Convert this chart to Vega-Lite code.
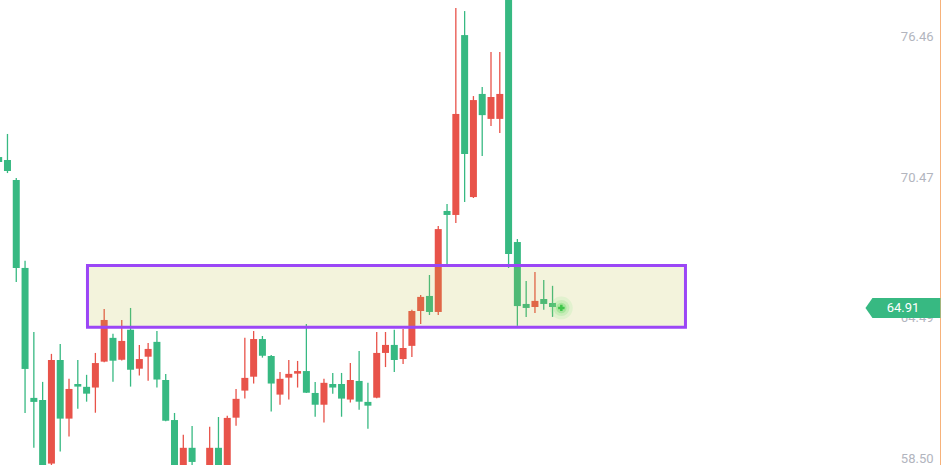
{
  "$schema": "https://vega.github.io/schema/vega-lite/v6.json",
  "width": 942,
  "height": 465,
  "padding": 0,
  "autosize": {"type": "none"},
  "background": "white",
  "config": {
    "view": {"stroke": null},
    "axisY": {"labelAlign": "right", "labelBaseline": "middle", "offset": -9, "labelPadding": 0, "ticks": false, "domain": false, "grid": false, "labelColor": "#b2b5be", "labelFontSize": 13, "labelFont": "Roboto"}
  },
  "datasets": {
    "candles": [
      {"i": 0, "o": 71.32, "h": 71.45, "l": 71.0, "c": 71.11},
      {"i": 1, "o": 71.19, "h": 72.30, "l": 70.64, "c": 70.73},
      {"i": 2, "o": 70.35, "h": 70.43, "l": 66.01, "c": 66.61},
      {"i": 3, "o": 66.61, "h": 66.91, "l": 60.45, "c": 62.32},
      {"i": 4, "o": 61.09, "h": 63.89, "l": 58.97, "c": 60.92},
      {"i": 5, "o": 61.00, "h": 61.77, "l": 57.8, "c": 58.0},
      {"i": 6, "o": 58.30, "h": 62.96, "l": 58.1, "c": 62.70},
      {"i": 7, "o": 62.70, "h": 63.38, "l": 58.81, "c": 60.21},
      {"i": 8, "o": 60.21, "h": 61.90, "l": 59.45, "c": 61.47},
      {"i": 9, "o": 61.68, "h": 62.70, "l": 60.63, "c": 61.57},
      {"i": 10, "o": 61.56, "h": 62.07, "l": 60.93, "c": 61.27},
      {"i": 11, "o": 61.53, "h": 63.00, "l": 60.46, "c": 62.57},
      {"i": 12, "o": 62.63, "h": 64.87, "l": 62.60, "c": 64.40},
      {"i": 13, "o": 63.64, "h": 63.81, "l": 61.78, "c": 62.67},
      {"i": 14, "o": 62.71, "h": 64.40, "l": 62.68, "c": 63.51},
      {"i": 15, "o": 63.98, "h": 64.91, "l": 61.57, "c": 62.29},
      {"i": 16, "o": 62.33, "h": 63.34, "l": 62.04, "c": 62.74},
      {"i": 17, "o": 62.84, "h": 63.42, "l": 61.82, "c": 63.17},
      {"i": 18, "o": 63.47, "h": 63.93, "l": 61.53, "c": 61.87},
      {"i": 19, "o": 61.85, "h": 62.11, "l": 60.10, "c": 60.12},
      {"i": 20, "o": 60.15, "h": 60.45, "l": 57.9, "c": 58.0},
      {"i": 21, "o": 58.0, "h": 59.52, "l": 57.8, "c": 58.97},
      {"i": 22, "o": 58.97, "h": 59.90, "l": 58.1, "c": 58.37},
      {"i": 23, "o": 58.0, "h": 58.15, "l": 57.3, "c": 57.6},
      {"i": 24, "o": 57.9, "h": 59.86, "l": 57.6, "c": 58.97},
      {"i": 25, "o": 58.97, "h": 60.28, "l": 57.9, "c": 58.0},
      {"i": 26, "o": 57.9, "h": 60.33, "l": 57.7, "c": 60.24},
      {"i": 27, "o": 60.25, "h": 61.47, "l": 59.91, "c": 61.05},
      {"i": 28, "o": 61.40, "h": 63.64, "l": 61.06, "c": 61.94},
      {"i": 29, "o": 61.99, "h": 63.93, "l": 61.70, "c": 63.59},
      {"i": 30, "o": 63.59, "h": 63.72, "l": 62.80, "c": 62.88},
      {"i": 31, "o": 62.87, "h": 62.91, "l": 60.51, "c": 61.70},
      {"i": 32, "o": 61.23, "h": 62.19, "l": 60.80, "c": 61.90},
      {"i": 33, "o": 61.95, "h": 62.70, "l": 61.02, "c": 62.11},
      {"i": 34, "o": 62.12, "h": 62.66, "l": 61.53, "c": 62.23},
      {"i": 35, "o": 62.23, "h": 64.23, "l": 61.30, "c": 61.31},
      {"i": 36, "o": 61.30, "h": 61.77, "l": 60.29, "c": 60.80},
      {"i": 37, "o": 60.80, "h": 61.90, "l": 60.04, "c": 61.73},
      {"i": 38, "o": 61.68, "h": 62.15, "l": 61.27, "c": 61.53},
      {"i": 39, "o": 61.68, "h": 62.15, "l": 60.29, "c": 61.06},
      {"i": 40, "o": 61.02, "h": 62.57, "l": 60.89, "c": 61.85},
      {"i": 41, "o": 61.81, "h": 63.08, "l": 60.59, "c": 60.93},
      {"i": 42, "o": 60.92, "h": 61.73, "l": 59.78, "c": 60.76},
      {"i": 43, "o": 61.10, "h": 63.89, "l": 61.08, "c": 63.00},
      {"i": 44, "o": 63.00, "h": 63.89, "l": 62.40, "c": 63.34},
      {"i": 45, "o": 63.34, "h": 63.98, "l": 62.19, "c": 62.70},
      {"i": 46, "o": 62.74, "h": 64.02, "l": 62.53, "c": 63.21},
      {"i": 47, "o": 63.30, "h": 64.83, "l": 62.83, "c": 64.78},
      {"i": 48, "o": 64.78, "h": 65.46, "l": 64.23, "c": 65.38},
      {"i": 49, "o": 65.42, "h": 66.31, "l": 64.61, "c": 64.74},
      {"i": 50, "o": 64.74, "h": 68.39, "l": 64.61, "c": 68.26},
      {"i": 51, "o": 69.03, "h": 69.33, "l": 66.78, "c": 68.86},
      {"i": 52, "o": 68.86, "h": 77.65, "l": 68.52, "c": 73.15},
      {"i": 53, "o": 76.50, "h": 77.52, "l": 69.41, "c": 71.45},
      {"i": 54, "o": 69.62, "h": 73.91, "l": 69.58, "c": 73.74},
      {"i": 55, "o": 74.00, "h": 74.29, "l": 71.36, "c": 73.10},
      {"i": 56, "o": 72.94, "h": 75.78, "l": 72.64, "c": 73.87},
      {"i": 57, "o": 72.94, "h": 75.78, "l": 72.34, "c": 74.00},
      {"i": 58, "o": 78.6, "h": 78.9, "l": 66.61, "c": 67.20},
      {"i": 59, "o": 67.71, "h": 67.84, "l": 64.15, "c": 64.99},
      {"i": 60, "o": 65.08, "h": 66.06, "l": 64.53, "c": 64.91},
      {"i": 61, "o": 64.95, "h": 66.44, "l": 64.70, "c": 65.21},
      {"i": 62, "o": 65.29, "h": 66.10, "l": 64.83, "c": 65.08},
      {"i": 63, "o": 65.12, "h": 65.85, "l": 64.53, "c": 64.95},
      {"i": 64, "o": 64.93, "h": 65.0, "l": 64.84, "c": 64.90}
    ],
    "zone": [{"x1": 10.10, "x2": 78.12, "top": 66.715, "bottom": 64.095}],
    "last": [{"i": 64, "p": 64.91}],
    "frame": [{"edge": 107.13}]
  },
  "layer": [
    {
      "data": {"name": "candles"},
      "mark": {"type": "rule", "strokeWidth": 1.3, "clip": true},
      "encoding": {
        "x": {"field": "i", "type": "quantitative", "scale": {"domain": [0.15, 107.3], "nice": false, "zero": false, "padding": 0}, "axis": null},
        "y": {"field": "l", "type": "quantitative", "title": null, "scale": {"domain": [58.24, 77.99], "nice": false, "zero": false, "padding": 0}, "axis": {"orient": "right", "values": [58.5, 64.49, 70.47, 76.46], "format": ".2f"}},
        "y2": {"field": "h"},
        "color": {"condition": {"test": "datum.c < datum.o", "value": "#37b982"}, "value": "#e8534a"}
      }
    },
    {
      "data": {"name": "candles"},
      "mark": {"type": "bar", "width": 7, "clip": true},
      "encoding": {
        "x": {"field": "i", "type": "quantitative", "scale": {"domain": [0.15, 107.3], "nice": false, "zero": false, "padding": 0}, "axis": null},
        "y": {"field": "o", "type": "quantitative", "title": null, "scale": {"domain": [58.24, 77.99], "nice": false, "zero": false, "padding": 0}, "axis": {"orient": "right", "values": [58.5, 64.49, 70.47, 76.46], "format": ".2f"}},
        "y2": {"field": "c"},
        "color": {"condition": {"test": "datum.c < datum.o", "value": "#37b982"}, "value": "#e8534a"}
      }
    },
    {
      "data": {"name": "zone"},
      "mark": {"type": "rect", "fill": "#bcbc3c", "fillOpacity": 0.18, "stroke": "#9b46f6", "strokeWidth": 3, "strokeOpacity": 1},
      "encoding": {
        "x": {"field": "x1", "type": "quantitative", "scale": {"domain": [0.15, 107.3], "nice": false, "zero": false, "padding": 0}, "axis": null},
        "x2": {"field": "x2"},
        "y": {"field": "top", "type": "quantitative", "title": null, "scale": {"domain": [58.24, 77.99], "nice": false, "zero": false, "padding": 0}, "axis": {"orient": "right", "values": [58.5, 64.49, 70.47, 76.46], "format": ".2f"}},
        "y2": {"field": "bottom"}
      }
    },
    {
      "data": {"name": "last"},
      "mark": {"type": "circle", "size": 520, "color": "#7ee87e", "opacity": 0.15},
      "encoding": {
        "x": {"field": "i", "type": "quantitative", "scale": {"domain": [0.15, 107.3], "nice": false, "zero": false, "padding": 0}, "axis": null},
        "y": {"field": "p", "type": "quantitative", "title": null, "scale": {"domain": [58.24, 77.99], "nice": false, "zero": false, "padding": 0}, "axis": {"orient": "right", "values": [58.5, 64.49, 70.47, 76.46], "format": ".2f"}}
      }
    },
    {
      "data": {"name": "last"},
      "mark": {"type": "circle", "size": 260, "color": "#6ee06e", "opacity": 0.2},
      "encoding": {
        "x": {"field": "i", "type": "quantitative", "scale": {"domain": [0.15, 107.3], "nice": false, "zero": false, "padding": 0}, "axis": null},
        "y": {"field": "p", "type": "quantitative", "title": null, "scale": {"domain": [58.24, 77.99], "nice": false, "zero": false, "padding": 0}, "axis": {"orient": "right", "values": [58.5, 64.49, 70.47, 76.46], "format": ".2f"}}
      }
    },
    {
      "data": {"name": "last"},
      "mark": {"type": "circle", "size": 110, "color": "#5ed85e", "opacity": 0.3},
      "encoding": {
        "x": {"field": "i", "type": "quantitative", "scale": {"domain": [0.15, 107.3], "nice": false, "zero": false, "padding": 0}, "axis": null},
        "y": {"field": "p", "type": "quantitative", "title": null, "scale": {"domain": [58.24, 77.99], "nice": false, "zero": false, "padding": 0}, "axis": {"orient": "right", "values": [58.5, 64.49, 70.47, 76.46], "format": ".2f"}}
      }
    },
    {
      "data": {"name": "last"},
      "mark": {"type": "point", "shape": "cross", "size": 40, "filled": true, "color": "#3fc54a", "opacity": 1},
      "encoding": {
        "x": {"field": "i", "type": "quantitative", "scale": {"domain": [0.15, 107.3], "nice": false, "zero": false, "padding": 0}, "axis": null},
        "y": {"field": "p", "type": "quantitative", "title": null, "scale": {"domain": [58.24, 77.99], "nice": false, "zero": false, "padding": 0}, "axis": {"orient": "right", "values": [58.5, 64.49, 70.47, 76.46], "format": ".2f"}}
      }
    },
    {
      "data": {"name": "frame"},
      "mark": {"type": "rule", "color": "#f7b27a", "strokeWidth": 1},
      "encoding": {
        "x": {"field": "edge", "type": "quantitative", "scale": {"domain": [0.15, 107.3], "nice": false, "zero": false, "padding": 0}, "axis": null}
      }
    },
    {
      "data": {"name": "last"},
      "mark": {"type": "point", "shape": "M -1 0 L -0.8133 -0.2667 L 1 -0.2667 L 1 0.2667 L -0.8133 0.2667 Z", "size": 5625, "filled": true, "color": "#37b982", "opacity": 1, "strokeWidth": 0},
      "encoding": {
        "x": {"datum": 102.86, "type": "quantitative", "scale": {"domain": [0.15, 107.3], "nice": false, "zero": false, "padding": 0}, "axis": null},
        "y": {"field": "p", "type": "quantitative", "title": null, "scale": {"domain": [58.24, 77.99], "nice": false, "zero": false, "padding": 0}, "axis": {"orient": "right", "values": [58.5, 64.49, 70.47, 76.46], "format": ".2f"}}
      }
    },
    {
      "data": {"name": "last"},
      "mark": {"type": "text", "color": "white", "fontSize": 13, "font": "Roboto", "align": "center", "baseline": "middle"},
      "encoding": {
        "x": {"datum": 102.86, "type": "quantitative", "scale": {"domain": [0.15, 107.3], "nice": false, "zero": false, "padding": 0}, "axis": null},
        "y": {"field": "p", "type": "quantitative", "title": null, "scale": {"domain": [58.24, 77.99], "nice": false, "zero": false, "padding": 0}, "axis": {"orient": "right", "values": [58.5, 64.49, 70.47, 76.46], "format": ".2f"}},
        "text": {"field": "p", "type": "quantitative", "format": ".2f"}
      }
    }
  ]
}
